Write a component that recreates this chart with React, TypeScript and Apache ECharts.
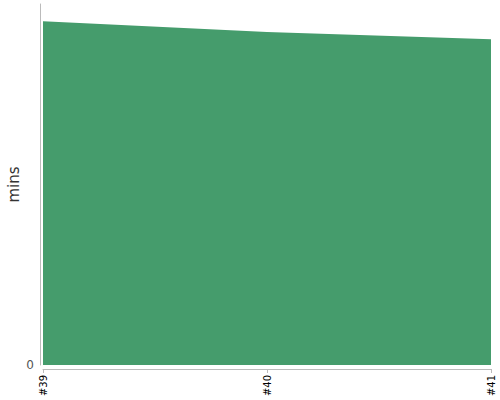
import React, { useEffect, useRef } from 'react';
import * as echarts from 'echarts';

const builds = ['#39', '#40', '#41'];
const durations = [38.1, 36.9, 36.1];
const yMax = 40;

const App = () => {
    const chartRef = useRef<HTMLDivElement>(null);

    useEffect(() => {
        const myChart = echarts.init(chartRef.current, null, { renderer: 'svg' });

        myChart.setOption({
            animation: false,
            textStyle: { fontFamily: '"DejaVu Sans", sans-serif' },
            grid: { left: 43, right: 9, top: 4, bottom: 35, outerBoundsMode: 'none', containLabel: false },
            xAxis: {
                type: 'category',
                data: builds,
                boundaryGap: false,
                offset: 4,
                axisLine: { onZero: false, lineStyle: { color: '#bbb' } },
                axisTick: { show: true, length: 4, lineStyle: { color: '#bbb' } },
                axisLabel: { rotate: 90, fontSize: 10, color: '#000', margin: 6 },
            },
            yAxis: {
                type: 'value',
                min: 0,
                max: yMax,
                interval: yMax,
                offset: 3,
                name: 'mins',
                nameLocation: 'middle',
                nameRotate: 90,
                nameGap: 19,
                nameMoveOverlap: false,
                nameTextStyle: { fontSize: 15, color: '#333' },
                axisLine: { show: true, lineStyle: { color: '#bbb' } },
                axisTick: { show: false },
                splitLine: { show: false },
                axisLabel: { showMaxLabel: false, fontSize: 12, color: '#555', margin: 6 },
            },
            series: [
                {
                    type: 'line',
                    data: durations,
                    showSymbol: false,
                    lineStyle: { width: 0 },
                    areaStyle: { color: '#459c6c', opacity: 1 },
                },
            ],
        });

        return () => {
            myChart.dispose();
        };
    }, []);

    return (
        <div
            ref={chartRef}
            style={{ position: 'absolute', left: 0, top: 0, width: '500px', height: '400px' }}
        />
    );
};

export default App;
